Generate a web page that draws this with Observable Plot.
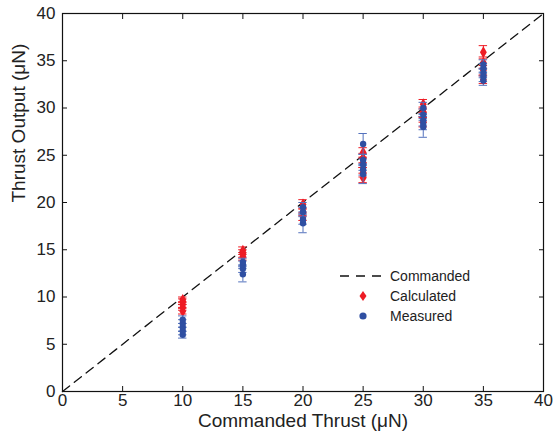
<!DOCTYPE html>
<html>
<head>
<meta charset="utf-8">
<script src="https://cdn.jsdelivr.net/npm/d3@7"></script>
<script src="https://cdn.jsdelivr.net/npm/@observablehq/plot@0.6"></script>
<style>
  html, body { margin: 0; padding: 0; background: #fff; }
  #wrap { position: relative; width: 555px; height: 436px; font-family: "Liberation Sans", Arial, sans-serif; }
  #legend { position: absolute; left: 336px; top: 266px; font-size: 14px; color: #222; }
  #legend .row { display: flex; align-items: center; height: 20px; }
  #legend svg { width: 52px; height: 20px; }
</style>
</head>
<body>
<div id="wrap">
  <div id="chart"></div>
  <div id="legend"></div>
</div>
<script>
// Commanded reference line
const commandedX = [0, 40];
const commandedY = [0, 40];

// Calculated (red diamonds)
const calcX   = [10, 10, 10, 10, 10, 15, 15, 15, 20, 20, 20, 25, 25, 25, 25, 25, 30, 30, 30, 30, 35, 35, 35, 35];
const calcY   = [8.5, 8.9, 9.2, 9.5, 9.7, 14.3, 14.6, 14.9, 18.5, 19.0, 19.8, 22.6, 23.2, 24.2, 24.7, 25.3, 28.5, 29.0, 29.6, 30.4, 33.0, 34.0, 34.8, 35.9];
const calcErr = [0.3, 0.3, 0.3, 0.3, 0.3, 0.4, 0.4, 0.4, 0.4, 0.4, 0.5, 0.5, 0.5, 0.5, 0.5, 0.5, 0.5, 0.5, 0.5, 0.5, 0.4, 0.5, 0.6, 0.7];

// Measured (blue circles)
const measX   = [10, 10, 10, 10, 10, 15, 15, 15, 15, 20, 20, 20, 20, 25, 25, 25, 25, 25, 30, 30, 30, 30, 30, 35, 35, 35, 35, 35];
const measY   = [6.0, 6.4, 6.8, 7.2, 7.6, 12.4, 13.0, 13.4, 13.7, 17.8, 18.2, 19.0, 19.5, 23.0, 23.5, 24.0, 24.5, 26.2, 28.0, 28.3, 28.7, 29.3, 30.0, 32.9, 33.3, 33.7, 34.2, 34.6];
const measErr = [0.35, 0.4, 0.4, 0.4, 0.4, 0.8, 0.4, 0.4, 0.4, 1.0, 0.5, 0.5, 0.5, 1.0, 0.6, 0.6, 0.6, 1.1, 1.1, 0.6, 0.6, 0.6, 0.6, 0.5, 0.5, 0.5, 0.5, 0.5];

const xTicks = [0, 5, 10, 15, 20, 25, 30, 35, 40];
const yTicks = [0, 5, 10, 15, 20, 25, 30, 35, 40];

const seriesNames = ["Commanded", "Calculated", "Measured"];

const RED = "#ee1c25";
const BLUE = "#2f4fa2";
const BLUE_BAR = "#5472bd";

const commanded = commandedX.map((x, i) => ({x, y: commandedY[i]}));
const calc = calcX.map((x, i) => ({x, y: calcY[i], e: calcErr[i]}));
const meas = measX.map((x, i) => ({x, y: measY[i], e: measErr[i]}));
const cap = 0.35;

const chart = Plot.plot({
  width: 555,
  height: 436,
  marginLeft: 62,
  marginRight: 12,
  marginTop: 13,
  marginBottom: 45,
  style: {fontFamily: "'Liberation Sans', Arial, sans-serif", fontSize: "17px", color: "#222", background: "#fff"},
  x: {domain: [0, 40], ticks: xTicks},
  y: {domain: [0, 40], ticks: yTicks},
  marks: [
    Plot.line(commanded, {x: "x", y: "y", stroke: "#111", strokeWidth: 1.3, strokeDasharray: "9,6"}),
    // calculated error bars
    Plot.ruleX(calc, {x: "x", y1: d => d.y - d.e, y2: d => d.y + d.e, stroke: RED, strokeWidth: 1}),
    Plot.ruleY(calc, {y: d => d.y - d.e, x1: d => d.x - cap, x2: d => d.x + cap, stroke: RED, strokeWidth: 1}),
    Plot.ruleY(calc, {y: d => d.y + d.e, x1: d => d.x - cap, x2: d => d.x + cap, stroke: RED, strokeWidth: 1}),
    Plot.dot(calc, {x: "x", y: "y", symbol: "diamond", r: 3.6, fill: RED, stroke: "none"}),
    // measured error bars
    Plot.ruleX(meas, {x: "x", y1: d => d.y - d.e, y2: d => d.y + d.e, stroke: BLUE_BAR, strokeWidth: 1}),
    Plot.ruleY(meas, {y: d => d.y - d.e, x1: d => d.x - cap, x2: d => d.x + cap, stroke: BLUE_BAR, strokeWidth: 1}),
    Plot.ruleY(meas, {y: d => d.y + d.e, x1: d => d.x - cap, x2: d => d.x + cap, stroke: BLUE_BAR, strokeWidth: 1}),
    Plot.dot(meas, {x: "x", y: "y", r: 3.2, fill: BLUE, stroke: "none"}),
    // frame & ticks
    Plot.frame({stroke: "#111", strokeWidth: 1.2}),
    Plot.axisX(xTicks, {anchor: "bottom", tickSize: 0, tickPadding: 2, label: null, fontSize: 17, fill: "#222"}),
    Plot.axisX(xTicks, {anchor: "bottom", tickSize: -5, text: null, label: null, stroke: "#111"}),
    Plot.axisX(xTicks, {anchor: "top", tickSize: -5, text: null, label: null, stroke: "#111"}),
    Plot.axisY(yTicks, {anchor: "left", tickSize: 0, tickPadding: 7, label: null, fontSize: 17, fill: "#222"}),
    Plot.axisY(yTicks, {anchor: "left", tickSize: -5, text: null, label: null, stroke: "#111"}),
    Plot.axisY(yTicks, {anchor: "right", tickSize: -5, text: null, label: null, stroke: "#111"}),
    Plot.text(["Commanded Thrust (μN)"], {frameAnchor: "bottom", dy: 35, fontSize: 19, fill: "#222"}),
    Plot.text(["Thrust Output (μN)"], {frameAnchor: "left", dx: -44, rotate: -90, fontSize: 19, fill: "#222"})
  ]
});
document.getElementById("chart").appendChild(chart);

// Legend
const legend = document.getElementById("legend");
const symbols = [
  `<line x1="4" y1="10" x2="48" y2="10" stroke="#111" stroke-width="1.3" stroke-dasharray="9,7"/>`,
  `<path d="M27,5 L30.5,10 L27,15 L23.5,10 Z" fill="${RED}"/>`,
  `<circle cx="27" cy="10" r="3.6" fill="${BLUE}"/>`
];
seriesNames.forEach((name, i) => {
  const row = document.createElement("div");
  row.className = "row";
  row.innerHTML = `<svg viewBox="0 0 52 20">${symbols[i]}</svg><span style="margin-left:2px">${name}</span>`;
  legend.appendChild(row);
});
</script>
</body>
</html>
